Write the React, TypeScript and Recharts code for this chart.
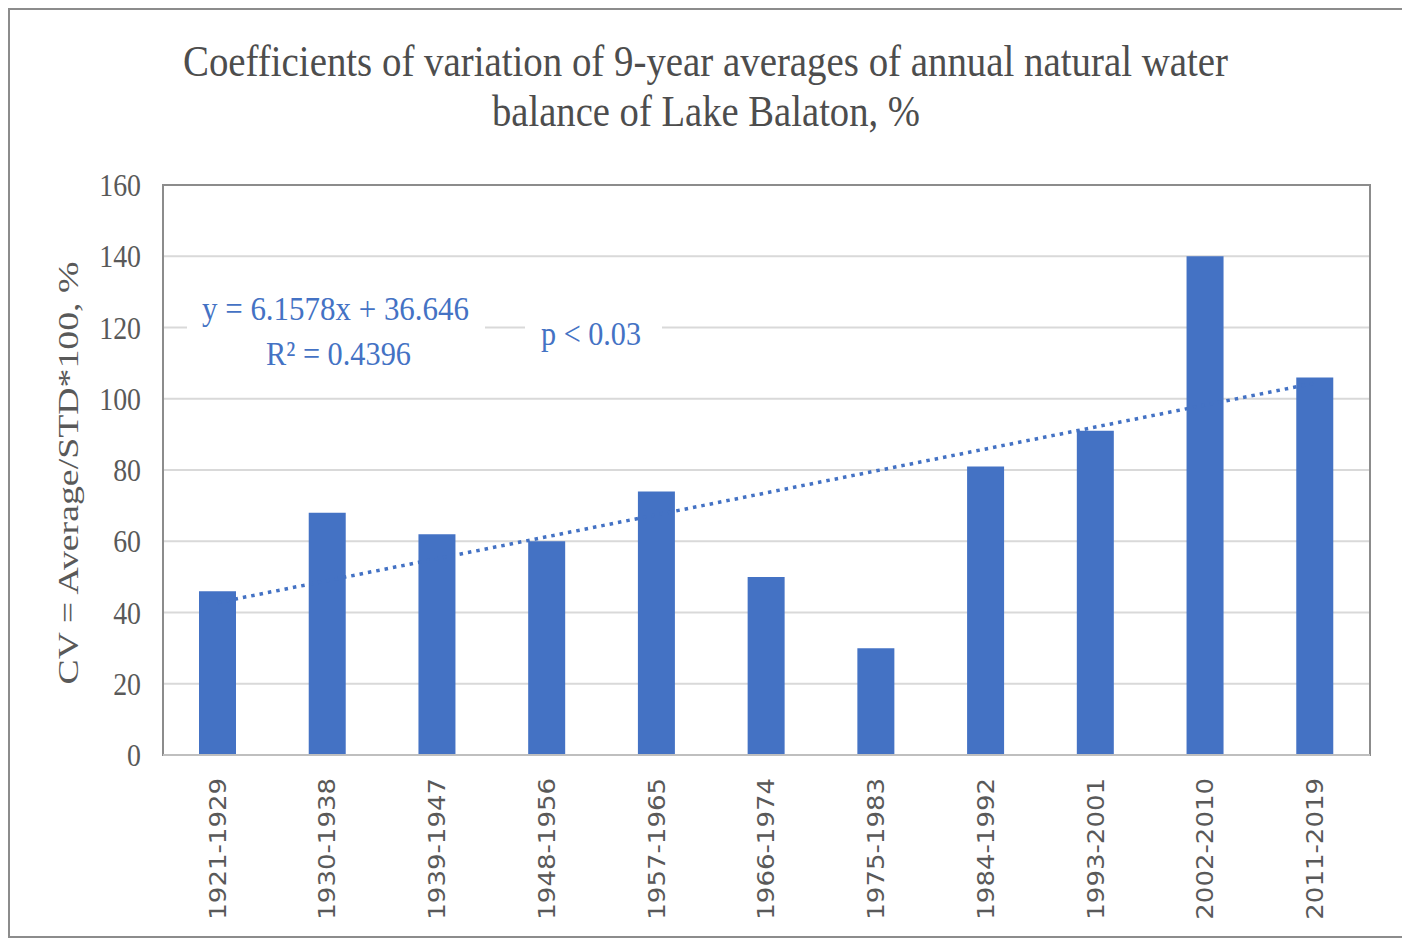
import React from "react";
import {
  ComposedChart,
  Bar,
  Line,
  XAxis,
  YAxis,
  CartesianGrid,
  ReferenceArea,
} from "recharts";

// 9-year periods and CV values
const periods = [
  "1921-1929",
  "1930-1938",
  "1939-1947",
  "1948-1956",
  "1957-1965",
  "1966-1974",
  "1975-1983",
  "1984-1992",
  "1993-2001",
  "2002-2010",
  "2011-2019",
];
const cvValues = [46, 68, 62, 60, 74, 50, 30, 81, 91, 140, 106];
// linear trend: only the two end points, line is connected across the gaps
const trendEnds = [42.8, null, null, null, null, null, null, null, null, null, 104.4];
const yTicks = [0, 20, 40, 60, 80, 100, 120, 140, 160];

const data = periods.map((p, i) => ({ period: p, cv: cvValues[i], trend: trendEnds[i] }));

const BLUE = "#4472C4";
const TEXT = "#595959";
const SQUEEZE = 0.87;

const XTick = ({ x, y, payload }: any) => (
  <g transform={`translate(${x},${y + 23}) scale(${SQUEEZE},1) rotate(-90)`}>
    <text
      x={0}
      y={0}
      textAnchor="end"
      dominantBaseline="central"
      fill={TEXT}
      fontFamily="DejaVu Sans"
      fontSize={26}
    >
      {payload.value}
    </text>
  </g>
);

const YTick = ({ x, y, payload }: any) => (
  <g transform={`translate(${x},${y}) scale(${SQUEEZE},1)`}>
    <text
      x={0}
      y={0}
      textAnchor="end"
      dominantBaseline="central"
      fill={TEXT}
      fontFamily="Liberation Serif"
      fontSize={32}
    >
      {payload.value}
    </text>
  </g>
);

export default function App() {
  return (
    <div
      style={{
        position: "relative",
        width: 1392,
        height: 926,
        border: "2px solid #8c8c8c",
        background: "#fff",
      }}
    >
      <ComposedChart
        width={1392}
        height={926}
        data={data}
        margin={{ top: 175, right: 32, bottom: 11, left: 0 }}
      >
        <CartesianGrid vertical={false} stroke="#d9d9d9" strokeWidth={2} />
        <XAxis
          dataKey="period"
          interval={0}
          height={170}
          tick={<XTick />}
          tickLine={false}
          tickSize={0}
          tickMargin={0}
          axisLine={{ stroke: "#bfbfbf", strokeWidth: 2 }}
        />
        <YAxis
          width={153}
          domain={[0, 160]}
          ticks={yTicks}
          tick={<YTick />}
          tickLine={false}
          tickSize={0}
          tickMargin={22}
          axisLine={false}
        />
        <Bar dataKey="cv" fill={BLUE} barSize={37} isAnimationActive={false} />
        <Line
          dataKey="trend"
          stroke={BLUE}
          strokeWidth={3.5}
          strokeDasharray="3.5 5"
          dot={false}
          activeDot={false}
          connectNulls
          isAnimationActive={false}
        />
        <ReferenceArea
          y1={0}
          y2={160}
          fill="none"
          stroke="#8c8c8c"
          strokeWidth={2}
          ifOverflow="visible"
        />
      </ComposedChart>

      <svg
        width={1392}
        height={926}
        style={{ position: "absolute", left: 0, top: 0, pointerEvents: "none" }}
      >
        <g fontFamily="Liberation Serif">
          <text
            x={695.5}
            y={66}
            textAnchor="middle"
            fontSize={44}
            fill="#4d4d4d"
            textLength={1045}
            lengthAdjust="spacingAndGlyphs"
          >
            Coefficients  of variation  of  9-year averages  of  annual  natural  water
          </text>
          <text
            x={696}
            y={116}
            textAnchor="middle"
            fontSize={44}
            fill="#4d4d4d"
            textLength={428}
            lengthAdjust="spacingAndGlyphs"
          >
            balance  of Lake Balaton,  %
          </text>

          <text
            transform={`translate(58,463) scale(${SQUEEZE},1) rotate(-90)`}
            x={0}
            y={0}
            textAnchor="middle"
            dominantBaseline="central"
            fontSize={34}
            fill={TEXT}
            textLength={423}
            lengthAdjust="spacingAndGlyphs"
          >
            CV  =  Average/STD*100, %
          </text>

          <rect x={177} y={275} width={298} height={93} fill="#fff" />
          <text
            x={192}
            y={310}
            fontSize={34}
            fill={BLUE}
            textLength={267}
            lengthAdjust="spacingAndGlyphs"
          >
            y = 6.1578x  + 36.646
          </text>
          <text
            x={256}
            y={355}
            fontSize={34}
            fill={BLUE}
            textLength={145}
            lengthAdjust="spacingAndGlyphs"
          >
            R² = 0.4396
          </text>

          <rect x={515} y={300} width={137} height={50} fill="#fff" />
          <text
            x={531}
            y={335}
            fontSize={34}
            fill={BLUE}
            textLength={100}
            lengthAdjust="spacingAndGlyphs"
          >
            p &lt; 0.03
          </text>
        </g>
      </svg>
    </div>
  );
}
